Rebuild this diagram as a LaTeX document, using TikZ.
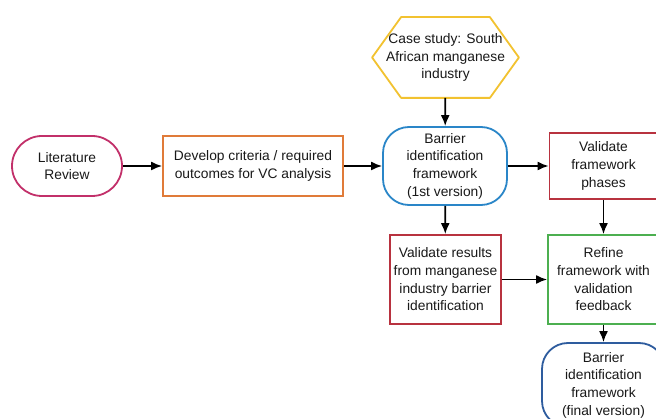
\documentclass[tikz,border=0pt]{standalone}
\usepackage{fontspec}
\setmainfont{Liberation Sans}
\usetikzlibrary{arrows.meta,calc}
\definecolor{litcol}{HTML}{C2306A}
\definecolor{devcol}{HTML}{E07B39}
\definecolor{barcol}{HTML}{2A86C8}
\definecolor{valcol}{HTML}{B8323F}
\definecolor{refcol}{HTML}{4CAF50}
\definecolor{fincol}{HTML}{2E5C9E}
\definecolor{hexcol}{HTML}{F2C230}
\tikzset{
  box/.style={draw, line width=1.8pt, fill=white, inner sep=0pt, align=center,
    font=\fontsize{13.8}{17.7}\selectfont, text=black!90},
  stadium/.style={box, rounded corners=30pt},
  roundbox/.style={box, rounded corners=26pt},
  flow/.style={-{Latex[length=11pt,width=9pt]}, line width=1.7pt, black}
}
\begin{document}
\begin{tikzpicture}[x=1pt,y=-1pt]
  \useasboundingbox (0,0) rectangle (656,419);
  \clip (0,0) rectangle (656,419);
  \fill[white] (0,0) rectangle (656,419);

  % case study (hexagon drawn around an invisible node)
  \node[box, draw=none, fill=none, minimum width=145pt, minimum height=79pt] (hex) at (445.5,57.5)
    {Case study: South\\African manganese\\industry};
  \draw[hexcol, line width=1.8pt, line join=round]
    (hex.west) -- ($(hex.north west)+(29,0)$) -- ($(hex.north east)+(-29,0)$) -- (hex.east)
    -- ($(hex.south east)+(-29,0)$) -- ($(hex.south west)+(29,0)$) -- cycle;

  % main row
  \node[stadium, draw=litcol, minimum width=110pt, minimum height=60pt] (lit) at (67,166)
    {Literature\\Review};
  \node[box, draw=devcol, minimum width=180pt, minimum height=60pt] (dev) at (253,166)
    {Develop criteria / required\\outcomes for VC analysis};
  \node[roundbox, draw=barcol, minimum width=124pt, minimum height=78pt] (bar1) at (445,166)
    {Barrier\\identification\\framework\\(1st version)};
  \node[box, draw=valcol, minimum width=108pt, minimum height=66pt] (phases) at (603.5,166)
    {Validate\\framework\\phases};

  % lower row
  \node[box, draw=valcol, minimum width=111pt, minimum height=89pt] (vres) at (445.5,279.5)
    {Validate results\\from manganese\\industry barrier\\identification};
  \node[box, draw=refcol, minimum width=111pt, minimum height=89pt] (refine) at (603.5,279.5)
    {Refine\\framework with\\validation\\feedback};
  \node[roundbox, draw=fincol, minimum width=123pt, minimum height=84pt] (final) at (603.5,385)
    {Barrier\\identification\\framework\\(final version)};

  % connectors
  \draw[flow] (lit) -- (dev);
  \draw[flow] (dev) -- (bar1);
  \draw[flow] (bar1) -- (phases);
  \draw[flow] (hex) -- (bar1);
  \draw[flow] (bar1) -- (vres);
  \draw[flow] (phases) -- (refine);
  \draw[flow] (vres) -- (refine);
  \draw[flow] (refine) -- (final);
\end{tikzpicture}
\end{document}
